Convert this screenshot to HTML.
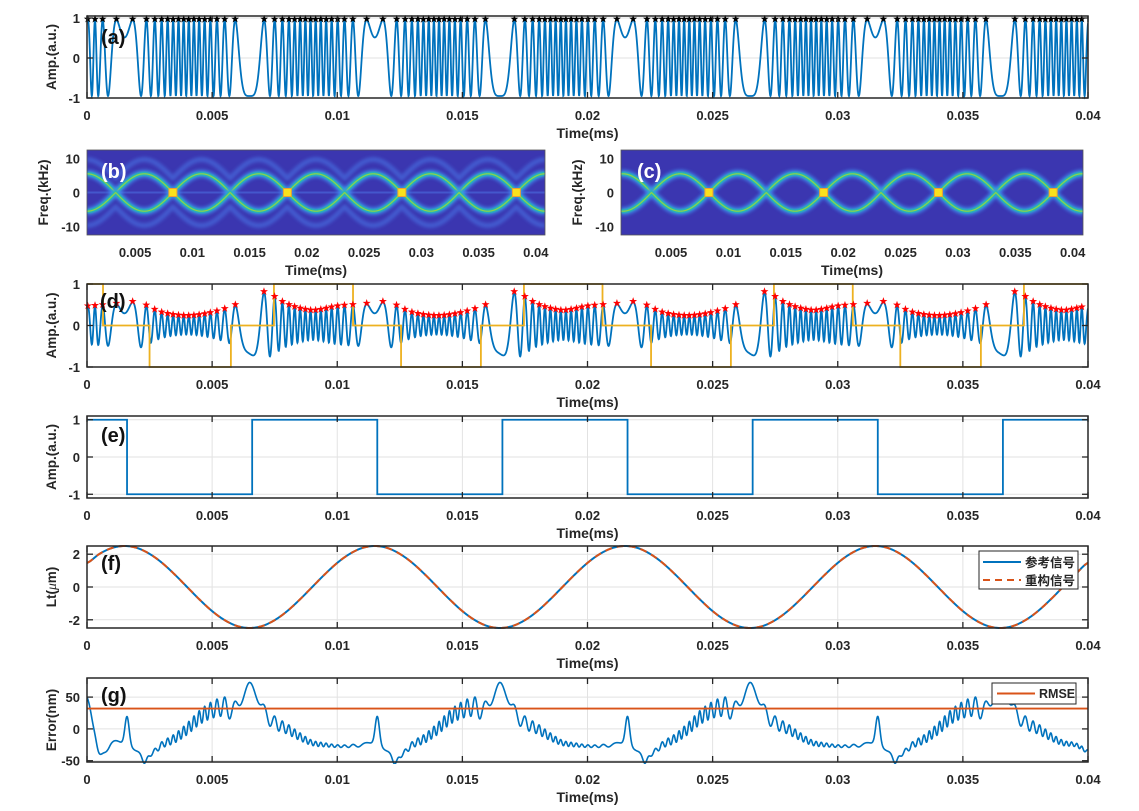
<!DOCTYPE html>
<html><head><meta charset="utf-8"><style>
html,body{margin:0;padding:0;background:#fff;}
svg{display:block;font-family:"Liberation Sans","Noto Sans CJK SC",sans-serif;}
</style></head><body>
<svg id="fig" width="1139" height="811" viewBox="0 0 1139 811" xmlns="http://www.w3.org/2000/svg">
<defs>
<filter id="blur2" x="-5%" y="-50%" width="110%" height="200%"><feGaussianBlur stdDeviation="1.6"/></filter>
<filter id="blur1" x="-5%" y="-50%" width="110%" height="200%"><feGaussianBlur stdDeviation="0.7"/></filter>
</defs>
</svg>
<script>
// ---------- data ----------
const ltStep = 0.0005;
const ltPeriod = [1.47,2.02,2.38,2.5,2.38,2.02,1.47,0.77,0,-0.77,-1.47,-2.02,-2.38,-2.5,-2.38,-2.02,-1.47,-0.77,0,0.77];
const LtVals = [].concat(ltPeriod, ltPeriod, ltPeriod, ltPeriod, [1.47]);
const dEnvStep = 0.001;
const dEnv = [0.45,0.5,0.55,0.3,0.22,0.3,0.5,0.8,0.5,0.35, 0.45,0.5,0.55,0.3,0.22,0.3,0.5,0.8,0.5,0.35, 0.45,0.5,0.55,0.3,0.22,0.3,0.5,0.8,0.5,0.35, 0.45,0.5,0.55,0.3,0.22,0.3,0.5,0.8,0.5,0.35, 0.45];
const orangeT = [0,0.00064,0.0025,0.00575,0.00747,0.01063,0.01255,0.01574,0.01746,0.0206,0.02254,0.02573,0.02745,0.0306,0.0325,0.03572,0.03744,0.04];
const orangeV = [1,0,-1,0,1,0,-1,0,1,0,-1,0,1,0,-1,0,1,1];
const eSwitchT = [0,0.0016,0.0066,0.0116,0.0166,0.0216,0.0266,0.0316,0.0366,0.04];
const eSwitchV = [1,-1,1,-1,1,-1,1,-1,1,1];
const errStep = 0.0005;
const errBase = [50,-38,-22,-25,-35,-40,-25,-15,0,18,30,35,30,78,30,10,0,-12,-22,-25,
 -27,-27,-25,-25,-35,-42,-25,-15,0,18,30,35,30,78,30,10,0,-12,-22,-25,
 -27,-27,-25,-25,-35,-40,-25,-15,0,18,30,35,30,78,30,10,0,-12,-22,-25,
 -27,-27,-25,-25,-35,-40,-25,-15,0,18,30,35,30,75,30,10,0,-12,-22,-25, -35];
const errRipple = [0,2,3,2,0,3,5,7,9,11,13,15,15,5,12,10,8,6,4,3,
 2,2,3,2,0,3,5,7,9,11,13,15,15,5,12,10,8,6,4,3,
 2,2,3,2,0,3,5,7,9,11,13,15,15,5,12,10,8,6,4,3,
 2,2,3,2,0,3,5,7,9,11,13,15,15,5,12,10,8,6,4,3, 3];
const spikeT = [0.0016,0.0023,0.0116,0.0123,0.0216,0.0223,0.0316,0.0323];
const spikeV = [45,-15,45,-15,45,-15,45,-15];
const rmse = 32;
const lensStart = [-0.0017,0.0033,0.0083,0.0133,0.0183,0.0233,0.0283,0.0333,0.0383];
const lensAmp = [5.5,5.5,5.5,5.5,5.5,5.5,5.5,5.5,5.5];
const yellowT = [0.0083,0.0183,0.0283,0.0383];
const xTicks = [0,0.005,0.01,0.015,0.02,0.025,0.03,0.035,0.04];
const xTickLabels = ['0','0.005','0.01','0.015','0.02','0.025','0.03','0.035','0.04'];

// ---------- helpers ----------
const NS='http://www.w3.org/2000/svg';
const svg=document.getElementById('fig');
function mk(tag,attrs,parent){const e=document.createElementNS(NS,tag);for(const k in attrs)e.setAttribute(k,attrs[k]);(parent||svg).appendChild(e);return e;}
function cr(vals,step,t){let u=t/step;let i=Math.floor(u);let f=u-i;const g=j=>vals[Math.max(0,Math.min(vals.length-1,j))];
 const p0=g(i-1),p1=g(i),p2=g(i+1),p3=g(i+2);
 return 0.5*((2*p1)+(-p0+p2)*f+(2*p0-5*p1+4*p2-p3)*f*f+(-p0+3*p1-3*p2+p3)*f*f*f);}
function Lt(t){return cr(LtVals,ltStep,t);}
function phase(t){return 19.68*Lt(t)+2.065;}
function sigA(t){return 0.95*Math.cos(phase(t));}
function sigD(t){return cr(dEnv,dEnvStep,t)*Math.cos(phase(t));}
function errG(t){let v=cr(errBase,errStep,t)+cr(errRipple,errStep,t)*Math.cos(phase(t)*1.0);
 for(let i=0;i<spikeT.length;i++){const d=(t-spikeT[i])/0.00012;v+=spikeV[i]*Math.exp(-d*d);}return v;}
let clipId=0;
function axes(o){
 const g=mk('g',{});
 
 
 const sx=t=>o.x0+(t-o.t0)/(o.t1-o.t0)*(o.x1-o.x0);
 const sy=v=>o.y1-(v-o.v0)/(o.v1-o.v0)*(o.y1-o.y0);
 const id='clip'+(clipId++);
 const cp=mk('clipPath',{id:id},g);
 mk('rect',{x:o.x0,y:o.y0-2,width:o.x1-o.x0,height:o.y1-o.y0+4},cp);
 if(o.bg){const r=mk('rect',{x:o.x0,y:o.y0,width:o.x1-o.x0,height:o.y1-o.y0,fill:o.bg},g);
  
  }
 if(o.grid){
  for(const t of o.xt){const l=mk('line',{x1:sx(t),x2:sx(t),y1:o.y0,y2:o.y1,stroke:'#e2e2e2','stroke-width':1},g);
   
   }
  for(const v of o.yt){const l=mk('line',{x1:o.x0,x2:o.x1,y1:sy(v),y2:sy(v),stroke:'#e2e2e2','stroke-width':1},g);
   
   }
 }
 const cg=mk('g',{'clip-path':'url(#'+id+')'},g);
 return {o,g,cg,sx,sy};
}
function finish(ax){
 const o=ax.o,g=ax.g,sx=ax.sx,sy=ax.sy;
 const tc='#262626';
 for(const t of o.xt){
  if(!o.noTicks){
   mk('line',{x1:sx(t),x2:sx(t),y1:o.y1,y2:o.y1-6,stroke:tc,'stroke-width':1.3},g);
   mk('line',{x1:sx(t),x2:sx(t),y1:o.y0,y2:o.y0+6,stroke:tc,'stroke-width':1.3},g);}
 }
 o.xt.forEach((t,i)=>{const tx=mk('text',{x:sx(t),y:o.y1+22,'text-anchor':'middle','font-size':13,'font-weight':'bold',fill:'#262626'},g);
  tx.textContent=o.xtl[i];
  
  });
 o.yt.forEach((v,i)=>{
  if(!o.noTicks){mk('line',{x1:o.x0,x2:o.x0+6,y1:sy(v),y2:sy(v),stroke:tc,'stroke-width':1.3},g);
   mk('line',{x1:o.x1,x2:o.x1-6,y1:sy(v),y2:sy(v),stroke:tc,'stroke-width':1.3},g);}
  const tx=mk('text',{x:o.x0-7,y:sy(v)+5,'text-anchor':'end','font-size':13,'font-weight':'bold',fill:'#262626'},g);
  tx.textContent=o.ytl[i];
  
  });
 const b=mk('rect',{x:o.x0,y:o.y0,width:o.x1-o.x0,height:o.y1-o.y0,fill:'none',stroke:o.noTicks?'#555':'#262626','stroke-width':o.noTicks?0.8:1.5},g);
 
 
 const xl=mk('text',{x:(o.x0+o.x1)/2,y:o.y1+40,'text-anchor':'middle','font-size':14,'font-weight':'bold',fill:'#262626'},g);
 xl.textContent='Time(ms)';
 
 
 const yc=(o.y0+o.y1)/2;
 const yl=mk('text',{x:o.ylx,y:yc,'text-anchor':'middle','font-size':13.5,'font-weight':'bold',fill:'#262626',transform:'rotate(-90 '+o.ylx+' '+yc+')'},g);
 if(o.ylabelHTML){yl.innerHTML=o.ylabelHTML;}else{yl.textContent=o.ylabel;}
 
 
 const pl=mk('text',{x:o.px,y:o.py,'font-size':20,'font-weight':'bold',fill:o.pcol||'#111'},g);
 pl.textContent=o.plabel;
 
 
}
function curve(ax,fn,t0,t1,N){let d='';for(let i=0;i<=N;i++){const t=t0+(t1-t0)*i/N;d+=(i?'L':'M')+ax.sx(t).toFixed(2)+' '+ax.sy(fn(t)).toFixed(2);}return d;}
function starPath(cx,cy,r){let d='';for(let i=0;i<10;i++){const a=-Math.PI/2+i*Math.PI/5;const rr=i%2?r*0.4:r;d+=(i?'L':'M')+(cx+rr*Math.cos(a)).toFixed(2)+' '+(cy+rr*Math.sin(a)).toFixed(2);}return d+'Z';}
function peaks(fn,thr,N){const out=[];let prev=fn(0),cur=fn(0.04/N);for(let i=1;i<N;i++){const nx=fn(0.04*(i+1)/N);if(cur>prev&&cur>=nx&&cur>thr)out.push([0.04*i/N,cur]);prev=cur;cur=nx;}return out;}
const full={x0:87,x1:1088,t0:0,t1:0.04,xt:xTicks,xtl:xTickLabels,grid:true,ylx:56};

// ---------- (a) ----------
{const ax=axes(Object.assign({},full,{name:'panel-a-interference-signal',y0:16,y1:98,v0:-1,v1:1.05,yt:[-1,0,1],ytl:['-1','0','1'],ylabel:'Amp.(a.u.)',plabel:'(a)',px:101,py:44}));
 const p=mk('path',{d:curve(ax,sigA,0,0.04,5000),fill:'none',stroke:'#0072bd','stroke-width':1.8},ax.cg);
 
 
 let sd='';for(const [t,v] of peaks(sigA,0.3,5000))sd+=starPath(ax.sx(t),ax.sy(v)-1,4.2);
 const s=mk('path',{d:sd,fill:'#000'},ax.g);
 
 
 finish(ax);}

// ---------- (b),(c) spectrograms ----------
function spectro(name,x0,x1,t0,t1,plabel,px,ylx,harm){
 const xt=xTicks.slice(1),xtl=xTickLabels.slice(1);
 const ax=axes({name:name,x0:x0,x1:x1,t0:t0,t1:t1,y0:150,y1:235,v0:-12.5,v1:12.5,xt:xt,xtl:xtl,yt:[-10,0,10],ytl:['-10','0','10'],ylabel:'Freq.(kHz)',plabel:plabel,px:px,py:178,pcol:'#fff',bg:'#3b36b0',noTicks:true,ylx:ylx});
 const lensFn=(sgn,scale,add)=>t=>{for(let i=0;i<lensStart.length;i++){const s=lensStart[i];if(t>=s&&t<=s+0.005)return sgn*(lensAmp[i]*scale*Math.sin(Math.PI*(t-s)/0.005)+add);}return 0;};
 if(harm){
  for(const sg of [1,-1]){
   const h=mk('path',{d:curve(ax,lensFn(sg,1,4.2),t0,t1,1500),fill:'none',stroke:'#4a78e8','stroke-width':5,opacity:0.55,filter:'url(#blur2)'},ax.cg);
   
   }
  const z=mk('line',{x1:x0,x2:x1,y1:ax.sy(0),y2:ax.sy(0),stroke:'#4a6ee0','stroke-width':2,opacity:0.6},ax.cg);
  
  
 }
 for(const sg of [1,-1]){
  const f=lensFn(sg,1,0);
  const a=mk('path',{d:curve(ax,f,t0,t1,1500),fill:'none',stroke:'#3f8ff0','stroke-width':8,opacity:0.8,filter:'url(#blur2)'},ax.cg);
  
  
  const b=mk('path',{d:curve(ax,f,t0,t1,1500),fill:'none',stroke:'#22bcb0','stroke-width':4,filter:'url(#blur1)'},ax.cg);
  
  
  const c=mk('path',{d:curve(ax,f,t0,t1,1500),fill:'none',stroke:'#8fd24a','stroke-width':1.2},ax.cg);
  
  
 }
 for(const t of yellowT){const r=mk('rect',{x:ax.sx(t)-4,y:ax.sy(0)-4,width:8,height:8,fill:'#f9e21c',stroke:'#f0a030','stroke-width':1},ax.cg);
  
  }
 finish(ax);
}
spectro('panel-b-spectrogram',87,545,0.0008,0.0408,'(b)',101,48,true);
spectro('panel-c-spectrogram',621,1083,0.00064,0.0409,'(c)',637,582,false);

// ---------- (d) ----------
{const ax=axes(Object.assign({},full,{name:'panel-d-processed-signal',y0:284,y1:367,v0:-1,v1:1,yt:[-1,0,1],ytl:['-1','0','1'],ylabel:'Amp.(a.u.)',plabel:'(d)',px:100,py:308}));
 const p=mk('path',{d:curve(ax,sigD,0,0.04,5000),fill:'none',stroke:'#0072bd','stroke-width':1.8},ax.cg);
 
 
 let od='M'+ax.sx(orangeT[0])+' '+ax.sy(orangeV[0]);
 for(let i=1;i<orangeT.length;i++){od+='L'+ax.sx(orangeT[i]).toFixed(2)+' '+ax.sy(orangeV[i-1]).toFixed(2)+'L'+ax.sx(orangeT[i]).toFixed(2)+' '+ax.sy(orangeV[i]).toFixed(2);}
 const o=mk('path',{d:od,fill:'none',stroke:'#edb120','stroke-width':1.8},ax.cg);
 
 
 let sd='';for(const [t,v] of peaks(sigD,0.05,5000))sd+=starPath(ax.sx(t),ax.sy(v)-1,4.2);
 const s=mk('path',{d:sd,fill:'#ff0000'},ax.g);
 
 
 finish(ax);}

// ---------- (e) ----------
{const ax=axes(Object.assign({},full,{name:'panel-e-direction',y0:416,y1:498,v0:-1.1,v1:1.1,yt:[-1,0,1],ytl:['-1','0','1'],ylabel:'Amp.(a.u.)',plabel:'(e)',px:101,py:442}));
 let d='M'+ax.sx(eSwitchT[0])+' '+ax.sy(eSwitchV[0]);
 for(let i=1;i<eSwitchT.length;i++){d+='L'+ax.sx(eSwitchT[i]).toFixed(2)+' '+ax.sy(eSwitchV[i-1]).toFixed(2)+'L'+ax.sx(eSwitchT[i]).toFixed(2)+' '+ax.sy(eSwitchV[i]).toFixed(2);}
 const p=mk('path',{d:d,fill:'none',stroke:'#0072bd','stroke-width':1.8},ax.cg);
 
 
 finish(ax);}

// ---------- (f) ----------
{const ax=axes(Object.assign({},full,{name:'panel-f-displacement',y0:546,y1:628,v0:-2.5,v1:2.5,yt:[-2,0,2],ytl:['-2','0','2'],ylabelHTML:'Lt(<tspan font-style="italic" font-weight="normal" font-family="Liberation Serif, serif">μ</tspan>m)',plabel:'(f)',px:101,py:570}));
 const p=mk('path',{d:curve(ax,Lt,0,0.04,2000),fill:'none',stroke:'#0072bd','stroke-width':2},ax.cg);
 
 
 const q=mk('path',{d:curve(ax,Lt,0,0.04,2000),fill:'none',stroke:'#d95319','stroke-width':2,'stroke-dasharray':'7 5'},ax.cg);
 
 
 finish(ax);
 const lg=mk('g',{});
 
 
 mk('rect',{x:979,y:551,width:99,height:38,fill:'#fff',stroke:'#262626','stroke-width':1},lg);
 mk('line',{x1:983,x2:1021,y1:562,y2:562,stroke:'#0072bd','stroke-width':2},lg);
 mk('line',{x1:983,x2:1021,y1:580,y2:580,stroke:'#d95319','stroke-width':2,'stroke-dasharray':'7 5'},lg);
 const t1=mk('text',{x:1025,y:567,'font-size':12.5,'font-weight':'bold',fill:'#262626'},lg);
 t1.textContent='参考信号';
 
 
 const t2=mk('text',{x:1025,y:585,'font-size':12.5,'font-weight':'bold',fill:'#262626'},lg);
 t2.textContent='重构信号';
 
 
}

// ---------- (g) ----------
{const ax=axes(Object.assign({},full,{name:'panel-g-error',y0:678,y1:762,v0:-52,v1:80,yt:[-50,0,50],ytl:['-50','0','50'],ylabel:'Error(nm)',plabel:'(g)',px:101,py:702}));
 const p=mk('path',{d:curve(ax,errG,0,0.04,5000),fill:'none',stroke:'#0072bd','stroke-width':1.6},ax.cg);
 
 
 const r=mk('line',{x1:ax.sx(0),x2:ax.sx(0.04),y1:ax.sy(rmse),y2:ax.sy(rmse),stroke:'#d95319','stroke-width':1.8},ax.cg);
 
 
 finish(ax);
 const lg=mk('g',{});
 
 
 mk('rect',{x:992,y:683,width:84,height:21,fill:'#fff',stroke:'#262626','stroke-width':1},lg);
 mk('line',{x1:997,x2:1035,y1:693.5,y2:693.5,stroke:'#d95319','stroke-width':2},lg);
 const t=mk('text',{x:1039,y:698,'font-size':12.5,'font-weight':'bold',fill:'#262626'},lg);
 t.textContent='RMSE';
 
 
}
</script>
</body></html>
